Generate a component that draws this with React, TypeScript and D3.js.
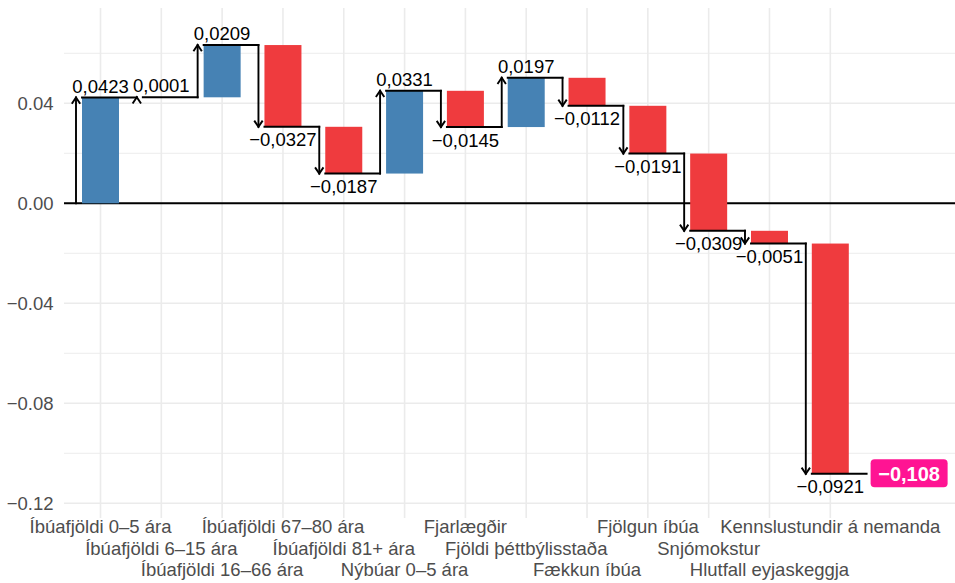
import React from 'react';
import * as d3 from 'd3';

// waterfall of contributions
const categories = [
  'Íbúafjöldi 0–5 ára',
  'Íbúafjöldi 6–15 ára',
  'Íbúafjöldi 16–66 ára',
  'Íbúafjöldi 67–80 ára',
  'Íbúafjöldi 81+ ára',
  'Nýbúar 0–5 ára',
  'Fjarlægðir',
  'Fjöldi þéttbýlisstaða',
  'Fækkun íbúa',
  'Fjölgun íbúa',
  'Snjómokstur',
  'Hlutfall eyjaskeggja',
  'Kennslustundir á nemanda',
];
const values = [
  0.0423, 0.0001, 0.0209, -0.0327, -0.0187, 0.0331, -0.0145, 0.0197, -0.0112, -0.0191, -0.0309,
  -0.0051, -0.0921,
];
const yMajorTicks = [0.04, 0, -0.04, -0.08, -0.12];
const yMinorTicks = [0.06, 0.02, -0.02, -0.06, -0.1];

const W = 955;
const H = 583;
const FONT = '"Liberation Sans", Arial, Helvetica, sans-serif';
const BLUE = '#4682B4';
const RED = '#EF3B3E';
const PINK = '#FF1493';
const GRID = '#EBEBEB';
const AXIS_TEXT = '#4D4D4D';

const fmtVal = (v: number, digits: number) =>
  (v < 0 ? '−' : '') + Math.abs(v).toFixed(digits).replace('.', ',');

const App = () => {
  const x = d3.scalePoint<string>().domain(categories).range([100.5, 830.3]);
  const step = x.step();
  const panelLeft = (x(categories[0]) as number) - 0.6 * step;
  const panelRight = W;
  const panelTop = 8;
  const panelBottom = 518;

  const y = d3.scaleLinear().domain([0.04, -0.12]).range([103.3, 503.3]);

  const barW = 37;
  const cum = Array.from(d3.cumsum(values));
  const starts = cum.map((c, i) => (i === 0 ? 0 : cum[i - 1]));
  const total = cum[cum.length - 1];

  const cx = (i: number) => (x(categories[0]) as number) + i * step;
  const leftOf = (i: number) => cx(i) - barW / 2;
  const arrowX = (i: number) => leftOf(i) - 6;

  const tickFmt = d3.format('.2f');

  const lastEnd = arrowX(categories.length);

  return (
    <div style={{ position: 'absolute', left: 0, top: 0 }}>
      <svg width={W} height={H} style={{ display: 'block', background: '#fff' }}>
        {/* grid */}
        {yMinorTicks.map((t) => (
          <line key={'mi' + t} x1={panelLeft} x2={panelRight} y1={y(t)} y2={y(t)} stroke={GRID} strokeWidth={0.9} />
        ))}
        {yMajorTicks.map((t) => (
          <line key={'ma' + t} x1={panelLeft} x2={panelRight} y1={y(t)} y2={y(t)} stroke={GRID} strokeWidth={1.6} />
        ))}
        {categories.map((c) => (
          <line key={'vg' + c} x1={x(c)} x2={x(c)} y1={panelTop} y2={panelBottom} stroke={GRID} strokeWidth={1.6} />
        ))}

        {/* zero line */}
        <line x1={panelLeft} x2={panelRight} y1={y(0)} y2={y(0)} stroke="#000" strokeWidth={1.9} />

        {/* bars */}
        {values.map((v, i) => {
          const top = y(Math.max(starts[i], cum[i]));
          const bot = y(Math.min(starts[i], cum[i]));
          return (
            <rect
              key={'b' + i}
              x={leftOf(i)}
              y={top}
              width={barW}
              height={Math.max(0.3, bot - top)}
              fill={v >= 0 ? BLUE : RED}
            />
          );
        })}

        {/* connector lines and arrows */}
        {values.map((v, i) => {
          const ax = arrowX(i);
          const y0 = y(starts[i]);
          const y1 = y(cum[i]);
          const dir = v >= 0 ? 1 : -1; // up when positive
          const nextX = arrowX(i + 1);
          return (
            <g key={'a' + i} stroke="#000" strokeWidth={1.9} fill="none" strokeLinecap="square">
              <line x1={ax} x2={ax} y1={y0} y2={y1} />
              <polyline
                points={`${ax - 4.2},${y1 + dir * 6.2} ${ax},${y1} ${ax + 4.2},${y1 + dir * 6.2}`}
                strokeLinecap="butt"
                strokeLinejoin="miter"
              />
              <line x1={leftOf(i)} x2={nextX} y1={y1} y2={y1} />
            </g>
          );
        })}

        {/* value labels */}
        {values.map((v, i) => (
          <text
            key={'l' + i}
            x={cx(i)}
            y={v >= 0 ? y(cum[i]) - 5 : y(cum[i]) + 19.5}
            textAnchor="middle"
            fontFamily={FONT}
            fontSize={18.5}
            fill="#000"
          >
            {fmtVal(v, 4)}
          </text>
        ))}

        {/* total label */}
        <g>
          <rect x={lastEnd + 4} y={y(total) - 14.5} width={77} height={28} rx={4} fill={PINK} />
          <text
            x={lastEnd + 4 + 38.5}
            y={y(total) + 7}
            textAnchor="middle"
            fontFamily={FONT}
            fontSize={20}
            fontWeight="bold"
            fill="#fff"
          >
            {fmtVal(total, 3)}
          </text>
        </g>

        {/* y axis labels */}
        {yMajorTicks.map((t) => (
          <text
            key={'yt' + t}
            x={53.5}
            y={y(t) + 6.4}
            textAnchor="end"
            fontFamily={FONT}
            fontSize={18.5}
            fill={AXIS_TEXT}
          >
            {tickFmt(t)}
          </text>
        ))}

        {/* x axis labels, staggered in three rows */}
        {categories.map((c, i) => (
          <text
            key={'xt' + c}
            x={x(c)}
            y={533 + (i % 3) * 21.5}
            textAnchor="middle"
            fontFamily={FONT}
            fontSize={18.5}
            fill={AXIS_TEXT}
          >
            {c}
          </text>
        ))}
      </svg>
    </div>
  );
};

export default App;
